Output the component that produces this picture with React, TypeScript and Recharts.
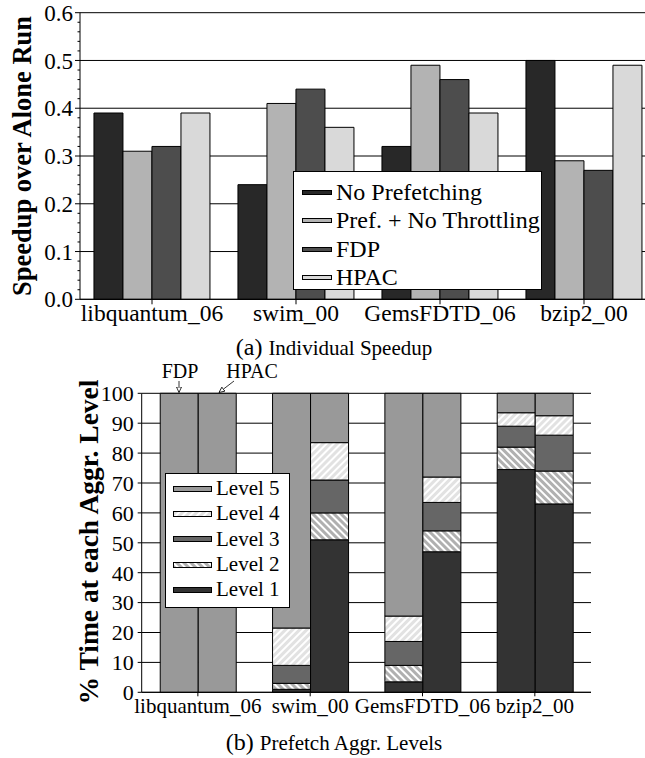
import { BarChart, Bar, XAxis, YAxis, CartesianGrid, Legend } from 'recharts';

// Two stacked panels: (a) speedup per benchmark, (b) time share per aggressiveness level.

const SERIF = '"Liberation Serif", "Times New Roman", serif';

const BENCHMARKS = ['libquantum_06', 'swim_00', 'GemsFDTD_06', 'bzip2_00'];

// (a) Individual Speedup
const NO_PREFETCHING = [0.39, 0.24, 0.32, 0.5];
const PREF_NO_THROTTLING = [0.31, 0.41, 0.49, 0.29];
const FDP_SPEEDUP = [0.32, 0.44, 0.46, 0.27];
const HPAC_SPEEDUP = [0.39, 0.36, 0.39, 0.49];
const SPEEDUP_TICKS = [0, 0.1, 0.2, 0.3, 0.4, 0.5, 0.6];
// minor ticks every 0.02 on the speedup axis
const SPEEDUP_MINOR = [
  0, 0.02, 0.04, 0.06, 0.08, 0.1, 0.12, 0.14, 0.16, 0.18, 0.2, 0.22, 0.24, 0.26, 0.28, 0.3,
  0.32, 0.34, 0.36, 0.38, 0.4, 0.42, 0.44, 0.46, 0.48, 0.5, 0.52, 0.54, 0.56, 0.58, 0.6,
];

// (b) % time at each level (FDP bar / HPAC bar)
const FDP_L1 = [0, 1, 3.5, 74.5];
const FDP_L2 = [0, 2, 5.5, 7.5];
const FDP_L3 = [0, 6, 8, 7];
const FDP_L4 = [0, 12.5, 8.5, 4.5];
const FDP_L5 = [100, 78.5, 74.5, 6.5];
const HPAC_L1 = [0, 51, 47, 63];
const HPAC_L2 = [0, 9, 7, 11];
const HPAC_L3 = [0, 11, 9.5, 12];
const HPAC_L4 = [0, 12.5, 8.5, 6.5];
const HPAC_L5 = [100, 16.5, 28, 7.5];
const PERCENT_TICKS = [0, 10, 20, 30, 40, 50, 60, 70, 80, 90, 100];

const speedupData = BENCHMARKS.map((name, i) => ({
  name,
  noPref: NO_PREFETCHING[i],
  pref: PREF_NO_THROTTLING[i],
  fdp: FDP_SPEEDUP[i],
  hpac: HPAC_SPEEDUP[i],
}));

const levelData = BENCHMARKS.map((name, i) => ({
  name,
  fdp1: FDP_L1[i], fdp2: FDP_L2[i], fdp3: FDP_L3[i], fdp4: FDP_L4[i], fdp5: FDP_L5[i],
  hpac1: HPAC_L1[i], hpac2: HPAC_L2[i], hpac3: HPAC_L3[i], hpac4: HPAC_L4[i], hpac5: HPAC_L5[i],
}));

const SPEEDUP_SERIES = [
  { key: 'noPref', name: 'No Prefetching', fill: '#282828' },
  { key: 'pref', name: 'Pref. + No Throttling', fill: '#b3b3b3' },
  { key: 'fdp', name: 'FDP', fill: '#4d4d4d' },
  { key: 'hpac', name: 'HPAC', fill: '#d9d9d9' },
];

const LEVELS = [
  { n: 1, name: 'Level 1', fill: '#333333' },
  { n: 2, name: 'Level 2', fill: 'url(#hatchL2)' },
  { n: 3, name: 'Level 3', fill: '#666666' },
  { n: 4, name: 'Level 4', fill: 'url(#hatchL4)' },
  { n: 5, name: 'Level 5', fill: '#999999' },
];

function SpeedupTick({ x, y, payload }: any) {
  const v = payload.value as number;
  const major = SPEEDUP_TICKS.some((t) => Math.abs(t - v) < 1e-6);
  const axisX = x + 7; // tickSize 5 + tickMargin 2
  return (
    <g>
      <line x1={axisX - (major ? 5 : 2.5)} x2={axisX} y1={y} y2={y} stroke="#000" />
      {major && (
        <text x={x} y={y} dy="0.35em" textAnchor="end" fontSize={23} fontFamily={SERIF} fill="#000">
          {v.toFixed(1)}
        </text>
      )}
    </g>
  );
}

function SpeedupLegend() {
  return (
    <div style={{
      width: 249, height: 119, boxSizing: 'border-box', border: '1px solid #000',
      background: '#fff', paddingTop: 6, fontFamily: SERIF, fontSize: 24, color: '#000',
    }}>
      {SPEEDUP_SERIES.map((s) => (
        <div key={s.key} style={{ display: 'flex', alignItems: 'center', height: 28.5, paddingLeft: 8 }}>
          <svg width={31} height={7} style={{ marginRight: 3 }}>
            <rect x={0.5} y={1.5} width={29} height={4} fill={s.fill} stroke="#000" />
          </svg>
          <span style={{ whiteSpace: 'nowrap' }}>{s.name}</span>
        </div>
      ))}
    </div>
  );
}

function LevelLegend() {
  return (
    <div style={{
      width: 125, height: 135, boxSizing: 'border-box', border: '1px solid #000',
      background: '#fff', paddingTop: 2, fontFamily: SERIF, fontSize: 21, color: '#000',
    }}>
      {[...LEVELS].reverse().map((l) => (
        <div key={l.n} style={{ display: 'flex', alignItems: 'center', height: 25.3, paddingLeft: 7.5 }}>
          <svg width={40} height={8} style={{ marginRight: 3 }}>
            <rect x={0.5} y={1.5} width={38} height={5} fill={l.fill} stroke="#000" />
          </svg>
          <span style={{ whiteSpace: 'nowrap' }}>{l.name}</span>
        </div>
      ))}
    </div>
  );
}

export default function App() {
  return (
    <div style={{
      position: 'absolute', left: 0, top: 0, width: 645, height: 758, overflow: 'hidden',
      background: '#fff', fontFamily: SERIF,
    }}>
      <div style={{ position: 'absolute', left: 0, top: 0 }}>
        <BarChart
          width={660} height={335} data={speedupData}
          margin={{ top: 12.7, right: 4, bottom: 5.7, left: 0 }}
          barCategoryGap="9.7%" barGap={0}
        >
          <CartesianGrid vertical={false} horizontalValues={SPEEDUP_TICKS} stroke="#000" />
          <XAxis
            dataKey="name" height={30} tickSize={5} tickMargin={0}
            axisLine={{ stroke: '#000' }} tickLine={{ stroke: '#000' }}
            tick={{ fill: '#000', fontSize: 23.5, fontFamily: SERIF }}
          />
          <YAxis
            width={80} domain={[0, 0.6]} ticks={SPEEDUP_MINOR} interval={0}
            tickSize={5} tickMargin={2} tickLine={false}
            axisLine={{ stroke: '#000' }} tick={<SpeedupTick />}
          />
          <Legend
            layout="vertical" align="center" verticalAlign="middle"
            wrapperStyle={{ left: 293, top: 171, width: 249, height: 119 }}
            content={() => <SpeedupLegend />}
          />
          {SPEEDUP_SERIES.map((s) => (
            <Bar key={s.key} dataKey={s.key} name={s.name} fill={s.fill}
              stroke="#000" strokeWidth={1} isAnimationActive={false} />
          ))}
        </BarChart>
      </div>

      <div style={{ position: 'absolute', left: 0, top: 380 }}>
        <BarChart
          width={600} height={350} data={levelData}
          margin={{ top: 13.3, right: 9, bottom: 7.7, left: 0 }}
          barCategoryGap="16.5%" barGap={0}
        >
          <defs>
            <pattern id="hatchL4" width={5} height={5} patternUnits="userSpaceOnUse" patternTransform="rotate(45)">
              <rect width={5} height={5} fill="#e2e2e2" />
              <rect width={2} height={5} fill="#ffffff" />
            </pattern>
            <pattern id="hatchL2" width={5} height={5} patternUnits="userSpaceOnUse" patternTransform="rotate(-45)">
              <rect width={5} height={5} fill="#ffffff" />
              <rect width={3} height={5} fill="#b0b0b0" />
            </pattern>
          </defs>
          <CartesianGrid vertical={false} stroke="#000" />
          <XAxis
            dataKey="name" height={30} tickSize={4} tickMargin={2}
            axisLine={{ stroke: '#000' }} tickLine={{ stroke: '#000' }}
            tick={{ fill: '#000', fontSize: 21, fontFamily: SERIF }}
          />
          <YAxis
            width={141.7} domain={[0, 100]} ticks={PERCENT_TICKS} interval={0}
            tickSize={4} tickMargin={4}
            axisLine={{ stroke: '#000' }} tickLine={{ stroke: '#000' }}
            tick={{ fill: '#000', fontSize: 22, fontFamily: SERIF }}
          />
          <Legend
            layout="vertical" align="center" verticalAlign="middle"
            wrapperStyle={{ left: 164.5, top: 93, width: 125, height: 135 }}
            content={() => <LevelLegend />}
          />
          {LEVELS.map((l) => (
            <Bar key={`fdp${l.n}`} dataKey={`fdp${l.n}`} stackId="fdp" name={l.name}
              fill={l.fill} stroke="#000" strokeWidth={1} isAnimationActive={false} />
          ))}
          {LEVELS.map((l) => (
            <Bar key={`hpac${l.n}`} dataKey={`hpac${l.n}`} stackId="hpac" name={l.name}
              fill={l.fill} stroke="#000" strokeWidth={1} isAnimationActive={false} />
          ))}
        </BarChart>
      </div>

      {/* axis titles, captions and the FDP / HPAC call-outs */}
      <svg width={645} height={758} style={{ position: 'absolute', left: 0, top: 0, pointerEvents: 'none' }}>
        <defs>
          <marker id="openArrow" markerWidth={7} markerHeight={7} refX={6} refY={3} orient="auto" markerUnits="userSpaceOnUse">
            <path d="M0.5,0.5 L6,3 L0.5,5.5 z" fill="#fff" stroke="#000" strokeWidth={0.8} />
          </marker>
        </defs>
        <text transform="translate(22,156) rotate(-90)" textAnchor="middle" dominantBaseline="central"
          fontSize={26.5} fontWeight="bold" fontFamily={SERIF} fill="#000">
          Speedup over Alone Run
        </text>
        <text transform="translate(88,542) rotate(-90)" textAnchor="middle" dominantBaseline="central"
          fontSize={27.5} fontWeight="bold" fontFamily={SERIF} fill="#000">
          % Time at each Aggr. Level
        </text>
        <text x={334} y={355} textAnchor="middle" fontFamily={SERIF} fill="#000">
          <tspan fontSize={24}>(a) </tspan><tspan fontSize={21}>Individual Speedup</tspan>
        </text>
        <text x={334} y={750} textAnchor="middle" fontFamily={SERIF} fill="#000">
          <tspan fontSize={24}>(b) </tspan><tspan fontSize={21}>Prefetch Aggr. Levels</tspan>
        </text>
        <text x={180} y={377.5} textAnchor="middle" fontSize={20} fontFamily={SERIF} fill="#000">FDP</text>
        <text x={252} y={377.5} textAnchor="middle" fontSize={20} fontFamily={SERIF} fill="#000">HPAC</text>
        <line x1={179} y1={381} x2={179} y2={392.5} stroke="#000" strokeWidth={0.8} markerEnd="url(#openArrow)" />
        <line x1={234} y1={381} x2={219} y2={392.5} stroke="#000" strokeWidth={0.8} markerEnd="url(#openArrow)" />
      </svg>
    </div>
  );
}
